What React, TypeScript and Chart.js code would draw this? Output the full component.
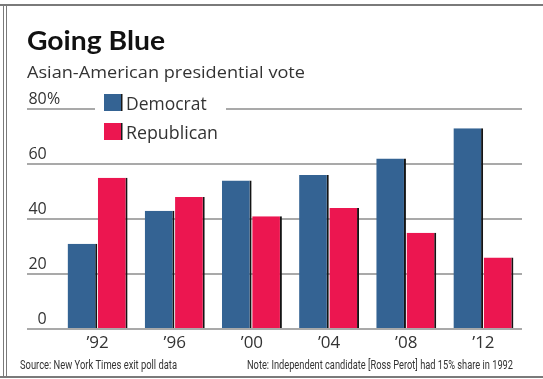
import React, { useEffect, useRef } from "react";
import { Chart, registerables } from "chart.js";

Chart.register(...registerables);

// ---- data ----
const categories = ["’92", "’96", "’00", "’04", "’08", "’12"];
const democrat = [31, 43, 54, 56, 62, 73];
const republican = [55, 48, 41, 44, 35, 26];
const seriesNames = ["Democrat", "Republican"];
const yTickValues = [0, 20, 40, 60, 80];
const yUnit = "%";
const titleText = "Going Blue";
const subtitleText = "Asian-American presidential vote";
const sourceText = "Source: New York Times exit poll data";
const noteText = "Note: Independent candidate [Ross Perot] had 15% share in 1992";

const BLUE = "#346393";
const RED = "#ec1650";
const GRID = "#a9a9a9";
const TEXT = "#333333";
const LABEL_FONT = "'Open Sans', 'DejaVu Sans', sans-serif";

function fitText(
  ctx: CanvasRenderingContext2D,
  text: string,
  x: number,
  baseline: number,
  width: number,
  font: string,
  color: string
) {
  ctx.save();
  ctx.font = font;
  ctx.fillStyle = color;
  ctx.textAlign = "left";
  ctx.textBaseline = "alphabetic";
  const w = ctx.measureText(text).width || 1;
  ctx.translate(x, baseline);
  ctx.scale(width / w, 1);
  ctx.fillText(text, 0, 0);
  ctx.restore();
}

const decorPlugin = {
  id: "decor",
  beforeDraw(chart: any) {
    const ctx: CanvasRenderingContext2D = chart.ctx;
    ctx.save();
    ctx.fillStyle = "#ffffff";
    ctx.fillRect(0, 0, chart.width, chart.height);
    // frame
    ctx.fillStyle = "#7a7a7a";
    ctx.fillRect(0, 4, chart.width, 2);
    ctx.fillRect(3, 4, 1, 374);
    ctx.fillRect(6, 4, 1, 374);
    ctx.fillRect(0, 376, chart.width, 2);
    ctx.restore();
  },
  afterDraw(chart: any) {
    const ctx: CanvasRenderingContext2D = chart.ctx;
    // title + subtitle
    fitText(ctx, titleText, 27, 50, 138, "bold 26px Lato, 'Open Sans', sans-serif", "#111111");
    fitText(ctx, subtitleText, 27, 77.5, 278, "16px 'Open Sans', sans-serif", TEXT);
    // footer
    fitText(ctx, sourceText, 20, 369, 157, "13px 'Liberation Sans Narrow', Roboto, sans-serif", TEXT);
    fitText(ctx, noteText, 247, 369, 266, "13px 'Liberation Sans Narrow', Roboto, sans-serif", TEXT);

    // percent sign after top tick
    const yScale = chart.scales.y;
    const top = yScale.ticks[yScale.ticks.length - 1];
    if (top) {
      ctx.save();
      ctx.font = "16px " + LABEL_FONT;
      ctx.fillStyle = TEXT;
      ctx.textAlign = "left";
      ctx.textBaseline = "middle";
      ctx.fillText(yUnit, 47, yScale.getPixelForValue(top.value) - 9.5);
      ctx.restore();
    }

    // legend
    ctx.save();
    ctx.fillStyle = "#ffffff";
    ctx.fillRect(95, 90, 131, 52);
    const textWidths = [80.7, 92];
    chart.data.datasets.forEach((ds: any, i: number) => {
      const sy = 94 + i * 29;
      ctx.fillStyle = ds.backgroundColor;
      ctx.fillRect(104, sy, 18, 17);
      ctx.fillStyle = "#1a1a1a";
      ctx.fillRect(121, sy, 1.5, 17);
      fitText(ctx, ds.label, 126, 110 + i * 28.5, textWidths[i], "17.5px " + LABEL_FONT, TEXT);
    });
    ctx.restore();
  },
};

export default function App() {
  const canvasRef = useRef<HTMLCanvasElement | null>(null);

  useEffect(() => {
    if (!canvasRef.current) return;
    const barBorder = { top: 0, right: 2, bottom: 0, left: 0 };
    const chart = new Chart(canvasRef.current, {
      type: "bar",
      data: {
        labels: categories,
        datasets: [
          {
            label: seriesNames[0],
            data: democrat,
            backgroundColor: BLUE,
            borderColor: "#141414",
            borderWidth: barBorder,
            borderSkipped: false,
          },
          {
            label: seriesNames[1],
            data: republican,
            backgroundColor: RED,
            borderColor: "#141414",
            borderWidth: barBorder,
            borderSkipped: false,
          },
        ],
      },
      options: {
        animation: false,
        responsive: false,
        maintainAspectRatio: false,
        layout: { padding: { left: 27, right: 21, top: 109, bottom: 25 } },
        datasets: {
          bar: { categoryPercentage: 0.785, barPercentage: 0.98 },
        },
        plugins: {
          legend: { display: false },
          tooltip: { enabled: false },
          title: { display: false },
        },
        scales: {
          x: {
            grid: { display: false, drawTicks: false },
            border: { display: false },
            ticks: {
              color: TEXT,
              font: { family: LABEL_FONT, size: 17 },
              padding: 4,
              maxRotation: 0,
            },
            afterFit: (s: any) => {
              s.height = 25;
            },
          },
          y: {
            min: 0,
            max: 80,
            afterBuildTicks: (s: any) => {
              s.ticks = yTickValues.map((v) => ({ value: v }));
            },
            grid: {
              color: GRID,
              lineWidth: 2,
              drawTicks: true,
              tickLength: 32,
              tickColor: GRID,
            },
            border: { display: false },
            ticks: {
              color: TEXT,
              font: { family: LABEL_FONT, size: 16 },
              crossAlign: "near",
              padding: -19.7,
              labelOffset: -9.5,
              callback: (v: any) => String(v),
            },
            afterFit: (s: any) => {
              s.width = 32;
            },
          },
        },
      },
      plugins: [decorPlugin],
    } as any);
    return () => chart.destroy();
  }, []);

  return (
    <div
      style={{
        position: "fixed",
        left: 0,
        top: 0,
        width: 543,
        height: 379,
        background: "#ffffff",
      }}
    >
      <canvas
        ref={canvasRef}
        width={543}
        height={379}
        style={{ display: "block", width: 543, height: 379 }}
      />
    </div>
  );
}
